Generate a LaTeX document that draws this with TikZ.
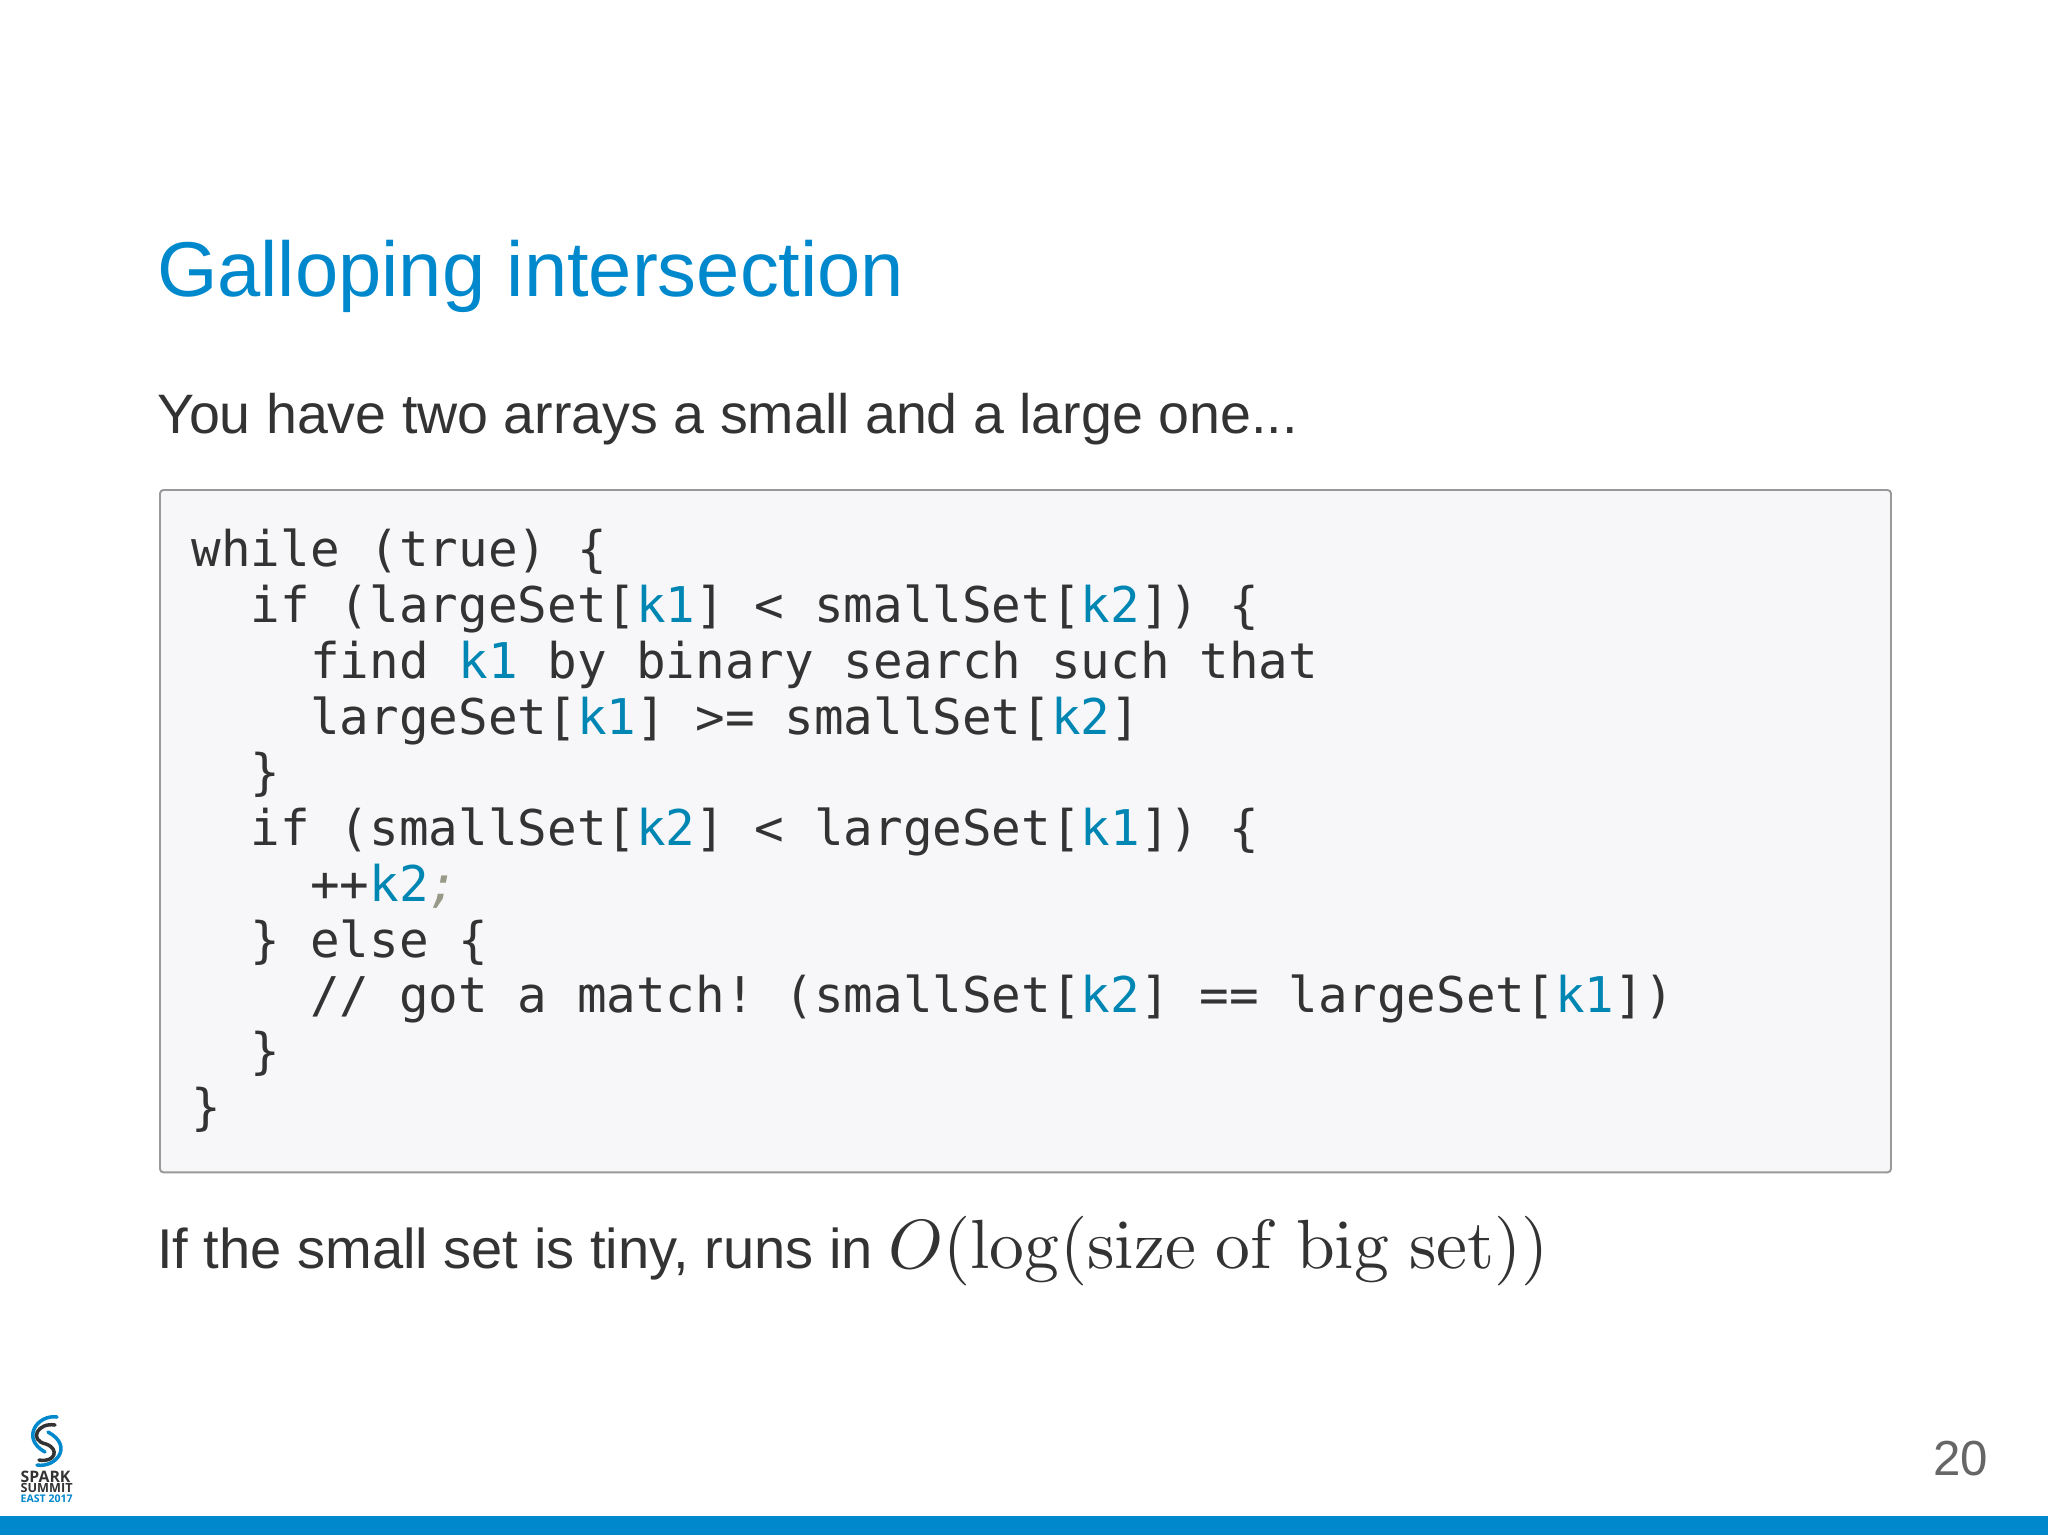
\documentclass[tikz,border=0pt]{standalone}
\usepackage[no-math]{fontspec}
\newfontfamily\slidefont{Liberation Sans}
\newfontfamily\codefont{DejaVu Sans Mono}
\newfontfamily\logofont{Open Sans}
\definecolor{slideblue}{HTML}{0088CC}
\definecolor{slidetext}{HTML}{333333}
\definecolor{codeblue}{HTML}{0086B3}
\definecolor{codegrey}{HTML}{999988}
\definecolor{boxfill}{HTML}{F7F7F9}
\newcommand{\kk}[1]{\textcolor{codeblue}{#1}}
\tikzset{
	slideline/.style={anchor=base west, inner sep=0pt, outer sep=0pt, text=slidetext, font=\slidefont\fontsize{16}{19}\selectfont},
	codebox/.style={draw=black!40, fill=boxfill, line width=0.55pt, rounded corners=1pt, anchor=north west, inner sep=0pt, minimum width=17.3cm, minimum height=6.82cm},
	logoarc/.style={line width=1pt, line cap=round}
}
\begin{document}
\begin{tikzpicture}[x=0.01cm, y=-0.01cm]
	\useasboundingbox (0,0) rectangle (2048,1538);
	\node[slideline, text=slideblue, font=\slidefont\fontsize{22.1}{25}\selectfont] (title) at (157,296) {Galloping intersection};
	\node[slideline, font=\slidefont\fontsize{15.8}{19}\selectfont] (intro) at (157,433) {You have two arrays a small and a large one...};
	\node[codebox] (box) at (159,489) {};
	\node[anchor=base west, inner sep=0pt, align=left, text=slidetext, font=\codefont\fontsize{14}{15.86}\selectfont] (code) at (191,1124.5) {%
while (true) \{\\
\ \ if (largeSet[\kk{k1}] < smallSet[\kk{k2}]) \{\\
\ \ \ \ find \kk{k1} by binary search such that\\
\ \ \ \ largeSet[\kk{k1}] >= smallSet[\kk{k2}]\\
\ \ \}\\
\ \ if (smallSet[\kk{k2}] < largeSet[\kk{k1}]) \{\\
\ \ \ \ ++\kk{k2}\textcolor{codegrey}{\textit{;}}\\
\ \ \} else \{\\
\ \ \ \ // got a match!\ (smallSet[\kk{k2}] == largeSet[\kk{k1}])\\
\ \ \}\\
\}};
	\node[slideline, font=\slidefont\fontsize{15.95}{19}\selectfont] (outro) at (157,1268) {If the small set is tiny, runs in \scalebox{1.98}{\fontsize{10}{12}\selectfont $O(\log(\mathrm{size\ of\ big\ set}))$}};
	\node[slideline, text=black!60, font=\slidefont\fontsize{14}{17}\selectfont] (pagenum) at (1933,1475) {20};
	% logo
	\draw[logoarc, slideblue] (57,1417) .. controls (38,1414) and (20,1438) .. (45,1452);
	\draw[logoarc, slideblue] (37,1465) .. controls (56,1468) and (74,1446) .. (48,1432);
	\draw[logoarc, slidetext] (55,1425) .. controls (38,1422) and (28,1440) .. (46,1444) .. controls (60,1449) and (55,1463) .. (39,1460);
	\node[anchor=base west, inner sep=0pt, text=slidetext, font=\logofont\bfseries\fontsize{4.5}{5}\selectfont] (spark) at (20,1482) {SPARK};
	\node[anchor=base west, inner sep=0pt, text=slidetext, font=\logofont\bfseries\fontsize{3.6}{5}\selectfont] (summit) at (20,1492) {SUMMIT};
	\node[anchor=base west, inner sep=0pt, text=slideblue, font=\logofont\bfseries\fontsize{3}{5}\selectfont] (east) at (20,1502) {EAST 2017};
	% bottom bar
	\fill[slideblue] (0,1516) rectangle (2048,1535);
\end{tikzpicture}
\end{document}
